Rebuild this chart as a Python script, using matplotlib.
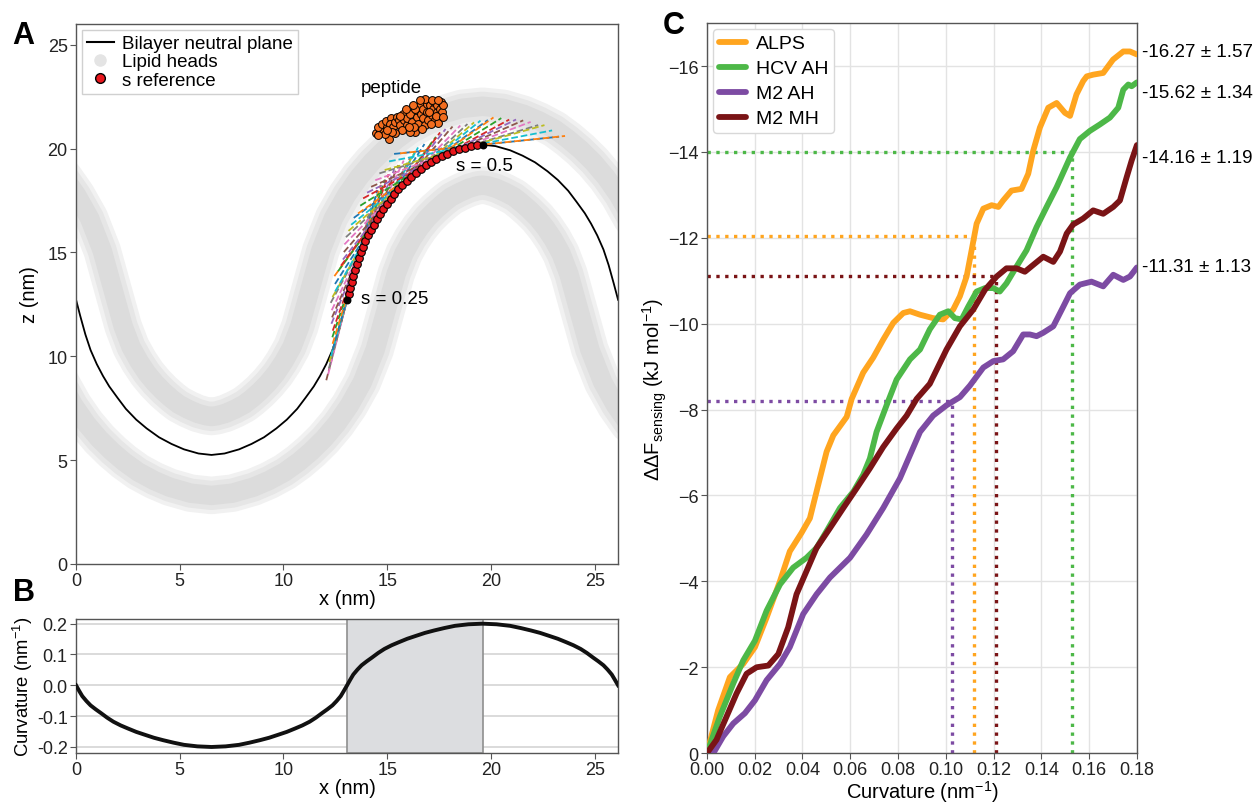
import numpy as np
import matplotlib.pyplot as plt
from matplotlib.lines import Line2D
from matplotlib.ticker import FormatStrFormatter

plt.rcParams['font.family'] = ['Liberation Sans', 'DejaVu Sans']
plt.rcParams['mathtext.default'] = 'regular'

# ---- panel A: membrane shape ----
neutral_x = [0, 0.2, 0.45, 0.7, 1.0, 1.3, 1.6, 2.0, 2.4, 2.9, 3.4, 4.0, 4.6, 5.2, 5.9, 6.53,
             7.16, 7.86, 8.46, 9.06, 9.66, 10.16, 10.66, 11.06, 11.46, 11.76, 12.06, 12.36, 12.61, 12.86, 13.065,
             13.265, 13.515, 13.765, 14.065, 14.365, 14.665, 15.065, 15.465, 15.965, 16.465, 17.065, 17.665,
             18.265, 18.965, 19.595, 20.225, 20.925, 21.525, 22.125, 22.725, 23.225, 23.725, 24.125, 24.525,
             24.825, 25.125, 25.425, 25.675, 25.925, 26.13]
neutral_z = [12.72, 11.95, 11.05, 10.3, 9.62, 9.05, 8.55, 8.0, 7.47, 6.95, 6.53, 6.1, 5.78, 5.52, 5.32, 5.25,
             5.32, 5.52, 5.78, 6.1, 6.53, 6.95, 7.47, 8.0, 8.55, 9.05, 9.62, 10.3, 11.05, 11.95, 12.72,
             13.49, 14.39, 15.14, 15.82, 16.39, 16.89, 17.44, 17.97, 18.49, 18.91, 19.34, 19.66,
             19.92, 20.12, 20.19, 20.12, 19.92, 19.66, 19.34, 18.91, 18.49, 17.97, 17.44, 16.89,
             16.39, 15.82, 15.14, 14.39, 13.49, 12.72]

upper_heads_x = [-0.58, 0.03, 0.65, 1.26, 1.79, 2.27, 2.65, 3.04, 3.42, 3.81, 4.20, 4.61, 4.95, 5.40, 5.86, 6.26,
                 6.53, 6.80, 7.20, 7.66, 8.11, 8.45, 8.86, 9.25, 9.64, 10.02, 10.41, 10.79, 11.27, 11.80, 12.41,
                 13.03, 13.64, 14.26, 14.87, 15.46, 16.11, 16.86, 17.61, 18.60, 19.595, 20.59, 21.58, 22.33,
                 23.08, 23.73, 24.32, 24.93, 25.55, 26.16, 26.78]
upper_heads_z = [18.62, 17.75, 16.65, 15.09, 13.18, 11.45, 10.45, 9.75, 9.18, 8.71, 8.31, 7.95, 7.69, 7.45, 7.25, 7.14,
                 7.10, 7.14, 7.25, 7.45, 7.69, 7.95, 8.31, 8.71, 9.18, 9.75, 10.45, 11.45, 13.18, 15.09, 16.65,
                 17.75, 18.62, 19.35, 19.95, 20.45, 20.93, 21.33, 21.65, 21.94, 22.04, 21.94, 21.65, 21.33,
                 20.93, 20.45, 19.95, 19.35, 18.62, 17.75, 16.65]
lower_heads_x = [-1.89, -1.36, -0.74, -0.12, 0.50, 1.12, 1.74, 2.33, 3.00, 3.76, 4.51, 5.52, 6.53, 7.54, 8.55,
                 9.30, 10.06, 10.73, 11.32, 11.94, 12.56, 13.18, 13.80, 14.42, 14.955, 15.43, 15.81, 16.19,
                 16.56, 16.94, 17.33, 17.74, 18.07, 18.51, 18.96, 19.35, 19.595, 19.84, 20.23, 20.68, 21.12,
                 21.45, 21.86, 22.25, 22.63, 23.00, 23.38, 23.76, 24.235, 24.77, 25.39, 26.01, 26.63]
lower_heads_z = [12.24, 10.32, 8.75, 7.64, 6.75, 6.02, 5.41, 4.91, 4.43, 4.02, 3.70, 3.41, 3.30, 3.41, 3.70,
                 4.02, 4.43, 4.91, 5.41, 6.02, 6.75, 7.64, 8.75, 10.32, 12.24, 13.96, 14.95, 15.64,
                 16.19, 16.66, 17.05, 17.41, 17.67, 17.90, 18.10, 18.21, 18.24, 18.21, 18.10, 17.90, 17.67,
                 17.41, 17.05, 16.66, 16.19, 15.64, 14.95, 13.96, 12.24, 10.32, 8.75, 7.64, 6.75]

# s reference points from s = 0.25 to s = 0.5
sref_x = [13.065, 13.14, 13.21, 13.29, 13.37, 13.45, 13.53, 13.62, 13.72, 13.82, 13.94, 14.06, 14.20, 14.34,
          14.49, 14.64, 14.81, 14.99, 15.16, 15.34, 15.53, 15.73, 15.94, 16.16, 16.38, 16.62, 16.86, 17.10,
          17.36, 17.62, 17.89, 18.17, 18.45, 18.73, 19.02, 19.31, 19.595]
sref_z = [12.72, 13.01, 13.29, 13.58, 13.86, 14.15, 14.43, 14.71, 15.00, 15.27, 15.54, 15.82, 16.08, 16.33,
          16.59, 16.85, 17.09, 17.33, 17.57, 17.80, 18.04, 18.25, 18.46, 18.65, 18.84, 19.02, 19.19, 19.36,
          19.50, 19.64, 19.76, 19.88, 19.97, 20.05, 20.13, 20.16, 20.19]

peptide_x = [14.46, 14.65, 14.81, 14.54, 14.73, 15.00, 15.10, 14.94, 15.17, 15.13, 15.29, 15.37, 15.45, 15.58,
             15.61, 15.78, 15.81, 15.94, 15.97, 16.10, 16.18, 16.26, 16.34, 16.42, 16.45, 16.50, 16.58, 16.61,
             16.71, 16.74, 16.82, 16.90, 16.93, 16.98, 17.06, 17.14, 17.19, 17.25, 17.30, 17.38, 17.41, 17.51,
             17.54, 17.57, 17.62, 17.67, 17.46, 17.09, 16.66, 16.10, 15.69, 15.37, 14.89, 14.57, 16.34, 16.82,
             17.14, 17.46, 15.61, 15.90, 16.22, 16.58, 17.03, 17.35, 17.70, 16.29, 16.03, 15.21, 15.00]
peptide_z = [20.77, 20.84, 20.96, 21.04, 21.20, 21.04, 20.48, 21.32, 21.45, 21.20, 21.04, 21.29, 21.53, 21.37,
             21.12, 21.69, 21.37, 21.12, 21.48, 21.69, 21.29, 20.96, 20.80, 21.53, 21.85, 21.20, 22.09, 21.69,
             21.45, 21.93, 21.12, 22.17, 21.77, 21.37, 22.09, 21.61, 21.93, 22.25, 21.37, 21.77, 22.09, 21.53,
             21.93, 22.25, 21.77, 22.09, 21.25, 21.20, 20.96, 20.80, 20.88, 20.77, 20.72, 20.64, 21.93, 22.41,
             22.33, 22.33, 21.57, 21.93, 22.09, 22.33, 21.77, 21.57, 21.53, 21.04, 21.04, 20.80, 20.88]

# ---- panel B: curvature along x ----
curv_x = [0, 0.15, 0.3, 0.5, 0.7, 0.95, 1.2, 1.5, 1.8, 2.15, 2.5, 2.9, 3.3, 3.75, 4.2, 4.7, 5.2, 5.85, 6.53,
          7.21, 7.86, 8.36, 8.86, 9.31, 9.76, 10.16, 10.56, 10.91, 11.26, 11.56, 11.86, 12.11, 12.36, 12.56,
          12.76, 12.91, 13.065, 13.215, 13.365, 13.565, 13.765, 14.015, 14.265, 14.565, 14.865, 15.215,
          15.565, 15.965, 16.365, 16.815, 17.265, 17.765, 18.265, 18.915, 19.595, 20.275, 20.925, 21.425,
          21.925, 22.375, 22.825, 23.225, 23.625, 23.975, 24.325, 24.625, 24.925, 25.175, 25.425, 25.625,
          25.825, 25.975, 26.13]
curv_k = [0, -0.018, -0.035, -0.051, -0.065, -0.078, -0.09, -0.105, -0.118, -0.13, -0.14, -0.151, -0.16,
          -0.17, -0.178, -0.186, -0.193, -0.198, -0.2, -0.198, -0.193, -0.186, -0.178, -0.17, -0.16, -0.151,
          -0.14, -0.13, -0.118, -0.105, -0.09, -0.078, -0.065, -0.051, -0.035, -0.018, 0, 0.018, 0.035, 0.051,
          0.065, 0.078, 0.09, 0.105, 0.118, 0.13, 0.14, 0.151, 0.16, 0.17, 0.178, 0.186, 0.193, 0.198, 0.2,
          0.198, 0.193, 0.186, 0.178, 0.17, 0.16, 0.151, 0.14, 0.13, 0.118, 0.105, 0.09, 0.078, 0.065, 0.051,
          0.035, 0.018, 0]
s_window = [13.065, 19.595]

# ---- panel C: free energy of sensing ----
alps_x = [0, 0.0047, 0.0096, 0.0152, 0.0201, 0.025, 0.0306, 0.0347, 0.0396, 0.0431, 0.0466, 0.0501, 0.0529,
          0.0585, 0.0606, 0.0654, 0.0696, 0.0738, 0.078, 0.0822, 0.085, 0.0892, 0.0947, 0.0989, 0.1031, 0.1059,
          0.1087, 0.1108, 0.1129, 0.1157, 0.1192, 0.122, 0.124, 0.1275, 0.1317, 0.1345, 0.1366, 0.1394, 0.1429,
          0.1464, 0.1499, 0.152, 0.1547, 0.1575, 0.159, 0.1617, 0.1659, 0.170, 0.1743, 0.1771, 0.18]
alps_y = [0, -1.0, -1.77, -2.08, -2.47, -3.16, -4.01, -4.70, -5.13, -5.47, -6.25, -7.02, -7.40,
          -7.83, -8.25, -8.86, -9.21, -9.63, -10.02, -10.25, -10.29, -10.21, -10.13, -10.10, -10.33, -10.64,
          -11.10, -11.71, -12.33, -12.68, -12.76, -12.72, -12.87, -13.10, -13.14, -13.49, -14.03, -14.57, -15.03,
          -15.14, -14.91, -14.84, -15.34, -15.65, -15.76, -15.80, -15.84, -16.15, -16.34, -16.34, -16.27]
hcv_x = [0, 0.0054, 0.011, 0.0152, 0.0201, 0.025, 0.0306, 0.0361, 0.0417, 0.0459, 0.0501, 0.0557, 0.0613,
         0.0654, 0.0682, 0.071, 0.0752, 0.0794, 0.085, 0.0892, 0.0933, 0.0975, 0.101, 0.1038, 0.1066, 0.1094,
         0.1129, 0.1164, 0.1199, 0.1226, 0.1254, 0.1296, 0.1338, 0.138, 0.1422, 0.1464, 0.152, 0.1561, 0.1603,
         0.1645, 0.1687, 0.1722, 0.1743, 0.1764, 0.1778, 0.18]
hcv_y = [0, -0.85, -1.62, -2.16, -2.62, -3.32, -3.93, -4.32, -4.55, -4.78, -5.17, -5.71, -6.09,
         -6.48, -6.86, -7.48, -8.10, -8.70, -9.17, -9.40, -9.87, -10.21, -10.29, -10.13, -10.10, -10.40,
         -10.75, -10.83, -10.83, -10.75, -10.94, -11.33, -11.71, -12.25, -12.72, -13.18, -13.87, -14.30, -14.49,
         -14.64, -14.80, -15.03, -15.45, -15.57, -15.53, -15.62]
m2ah_x = [0, 0.0027, 0.0068, 0.011, 0.0159, 0.0201, 0.025, 0.0306, 0.0347, 0.0403, 0.0459, 0.0515, 0.0599,
          0.0668, 0.0738, 0.0808, 0.085, 0.0892, 0.0947, 0.1003, 0.1059, 0.1101, 0.1157, 0.1199, 0.124, 0.1282,
          0.1324, 0.1352, 0.138, 0.1408, 0.145, 0.1492, 0.152, 0.1561, 0.161, 0.1659, 0.1701, 0.1743, 0.1771, 0.18]
m2ah_y = [0, 0, -0.39, -0.69, -0.93, -1.23, -1.70, -2.08, -2.47, -3.24, -3.70, -4.09, -4.55,
          -5.09, -5.71, -6.40, -6.94, -7.48, -7.86, -8.10, -8.29, -8.56, -8.98, -9.13, -9.17, -9.36,
          -9.75, -9.75, -9.71, -9.79, -9.94, -10.40, -10.71, -10.91, -10.98, -10.87, -11.14, -11.02, -11.10, -11.31]
m2mh_x = [0, 0.004, 0.0082, 0.0124, 0.0166, 0.0208, 0.0257, 0.0299, 0.034, 0.0375, 0.0417, 0.0459, 0.0515,
          0.0571, 0.0627, 0.0682, 0.0738, 0.0794, 0.0836, 0.0878, 0.0933, 0.1003, 0.1059, 0.1115, 0.1164, 0.1213,
          0.1254, 0.1296, 0.1331, 0.1366, 0.1408, 0.145, 0.1478, 0.1506, 0.1533, 0.1575, 0.1617, 0.1659, 0.1701,
          0.1729, 0.1757, 0.1778, 0.18]
m2mh_y = [0, -0.31, -0.85, -1.39, -1.85, -2.0, -2.04, -2.31, -2.93, -3.70, -4.24, -4.78, -5.24,
          -5.71, -6.17, -6.63, -7.13, -7.56, -7.86, -8.25, -8.60, -9.40, -9.94, -10.33, -10.79, -11.10,
          -11.29, -11.29, -11.21, -11.37, -11.56, -11.44, -11.68, -12.10, -12.31, -12.45, -12.64, -12.56, -12.72,
          -12.87, -13.41, -13.80, -14.16]

peptides = ['ALPS', 'HCV AH', 'M2 AH', 'M2 MH']
colors = ['#ffa51f', '#4db848', '#7d4ba3', '#7a1416']
final_labels = ['-16.27 ± 1.57', '-15.62 ± 1.34', '-14.16 ± 1.19', '-11.31 ± 1.13']
label_y = [-16.33, -15.38, -13.87, -11.33]
marker_curv = [0.112, 0.153, 0.1027, 0.1211]
marker_dF = [-12.04, -14.0, -8.2, -11.1]

spine_col = '#555555'


def style_axes(ax):
    for sp in ax.spines.values():
        sp.set_color(spine_col)
        sp.set_linewidth(1.0)
    ax.tick_params(colors='#222222', labelsize=13, length=4, color=spine_col, pad=2)


fig = plt.figure(figsize=(12.55, 8.04), dpi=100)

# ---------------- A ----------------
axA = fig.add_axes([0.0606, 0.2973, 0.4319, 0.6716])
for hx, hz in [(upper_heads_x, upper_heads_z), (lower_heads_x, lower_heads_z)]:
    axA.plot(hx, hz, color='#f1f1f1', lw=27, solid_capstyle='round', solid_joinstyle='round', zorder=1)
    axA.plot(hx, hz, color='#e6e6e6', lw=21, solid_capstyle='round', solid_joinstyle='round', zorder=1)
    axA.plot(hx, hz, color='#dcdcdc', lw=14, solid_capstyle='round', solid_joinstyle='round', zorder=1)
axA.plot(neutral_x, neutral_z, color='black', lw=1.3, zorder=2)

# tangent segments through each s reference point
sx = np.array(sref_x)
sz = np.array(sref_z)
tx = np.gradient(sx)
tz = np.gradient(sz)
nrm = np.hypot(tx, tz)
for i in range(len(sx)):
    ux, uz = tx[i] / nrm[i], tz[i] / nrm[i]
    axA.plot([sx[i] - 4 * ux, sx[i] + 4 * ux], [sz[i] - 4 * uz, sz[i] + 4 * uz],
             '--', color=f'C{(i + 5) % 10}', lw=1.3, zorder=3)
axA.scatter(sx[1:-1], sz[1:-1], s=30, color='#e8161c', edgecolor='black', linewidth=0.8, zorder=5)
axA.scatter([sx[0], sx[-1]], [sz[0], sz[-1]], s=22, color='black', zorder=6)
axA.scatter(peptide_x, peptide_z, s=32, color='#f26d1f', edgecolor='black', linewidth=0.7, zorder=5)

axA.text(15.2, 22.95, 'peptide', fontsize=13.5, ha='center', va='center')
axA.text(18.3, 19.2, 's = 0.5', fontsize=13.5, ha='left', va='center')
axA.text(13.75, 12.8, 's = 0.25', fontsize=13.5, ha='left', va='center')

axA.set_xlim(0, 26.13)
axA.set_ylim(0, 26)
axA.set_xticks([0, 5, 10, 15, 20, 25])
axA.set_yticks([0, 5, 10, 15, 20, 25])
axA.set_xlabel('x (nm)', fontsize=14.5, labelpad=0)
axA.set_ylabel('z (nm)', fontsize=14.5, labelpad=6)
style_axes(axA)
handlesA = [Line2D([], [], color='black', lw=1.5),
            Line2D([], [], ls='', marker='o', ms=8, color='#e4e4e4'),
            Line2D([], [], ls='', marker='o', ms=7, markerfacecolor='#e8161c', markeredgecolor='black')]
legA = axA.legend(handlesA, ['Bilayer neutral plane', 'Lipid heads', 's reference'], loc='upper left',
                  fontsize=13.5, labelspacing=0.05, handlelength=1.4, handletextpad=0.45,
                  borderaxespad=0.3, borderpad=0.3, fancybox=False, framealpha=1)
legA.get_frame().set_edgecolor('#d0d0d0')

# ---------------- B ----------------
axB = fig.add_axes([0.0606, 0.062, 0.4319, 0.1668])
axB.axvspan(s_window[0], s_window[1], facecolor='#dcdde0', edgecolor='#8f8f8f', lw=1.2, zorder=1)
axB.plot(curv_x, curv_k, color='#111111', lw=2.8, zorder=3, solid_joinstyle='round')
axB.set_xlim(0, 26.13)
axB.set_ylim(-0.22, 0.215)
axB.set_yticks([-0.2, -0.1, 0.0, 0.1, 0.2])
axB.set_xticks([0, 5, 10, 15, 20, 25])
axB.yaxis.set_major_formatter(FormatStrFormatter('%.1f'))
axB.grid(axis='y', color='#d4d4d4', lw=1.2, zorder=0)
axB.set_axisbelow(True)
axB.set_xlabel('x (nm)', fontsize=14.5, labelpad=0)
axB.set_ylabel('Curvature (nm$^{-1}$)', fontsize=13.3, labelpad=1)
style_axes(axB)

# ---------------- C ----------------
axC = fig.add_axes([0.5633, 0.062, 0.3426, 0.908])
series = [(alps_x, alps_y), (hcv_x, hcv_y), (m2ah_x, m2ah_y), (m2mh_x, m2mh_y)]
for (cx, cy), name, col in zip(series, peptides, colors):
    axC.plot(cx, cy, color=col, lw=4.2, label=name, solid_joinstyle='round', solid_capstyle='round', zorder=3)
for mc, md, col in zip(marker_curv, marker_dF, colors):
    axC.plot([0, mc], [md, md], ':', color=col, lw=2.4, zorder=2)
    axC.plot([mc, mc], [0, md], ':', color=col, lw=2.4, zorder=2)
for txt, ly in zip(final_labels, label_y):
    axC.text(1.012, ly, txt, transform=axC.get_yaxis_transform(), fontsize=13.5,
             ha='left', va='center', clip_on=False)
axC.set_xlim(0, 0.18)
axC.set_ylim(0, -17)
axC.set_xticks(np.arange(0, 0.181, 0.02))
axC.set_yticks(np.arange(0, -17, -2))
axC.grid(color='#e3e3e3', lw=1.0, zorder=0)
axC.set_axisbelow(True)
axC.set_xlabel('Curvature (nm$^{-1}$)', fontsize=14.5, labelpad=0)
axC.set_ylabel('ΔΔF$_{sensing}$ (kJ mol$^{-1}$)', fontsize=14.5, labelpad=-1)
style_axes(axC)
legC = axC.legend(loc='upper left', fontsize=14, labelspacing=0.38, handlelength=1.4,
                  handletextpad=0.5, borderaxespad=0.3, borderpad=0.3, fancybox=True, framealpha=1)
legC.get_frame().set_edgecolor('#d8d8d8')

fig.text(0.010, 0.955, 'A', fontsize=22, fontweight='bold', va='center')
fig.text(0.010, 0.262, 'B', fontsize=22, fontweight='bold', va='center')
fig.text(0.528, 0.968, 'C', fontsize=22, fontweight='bold', va='center')

fig.savefig('out.png', dpi=100)
